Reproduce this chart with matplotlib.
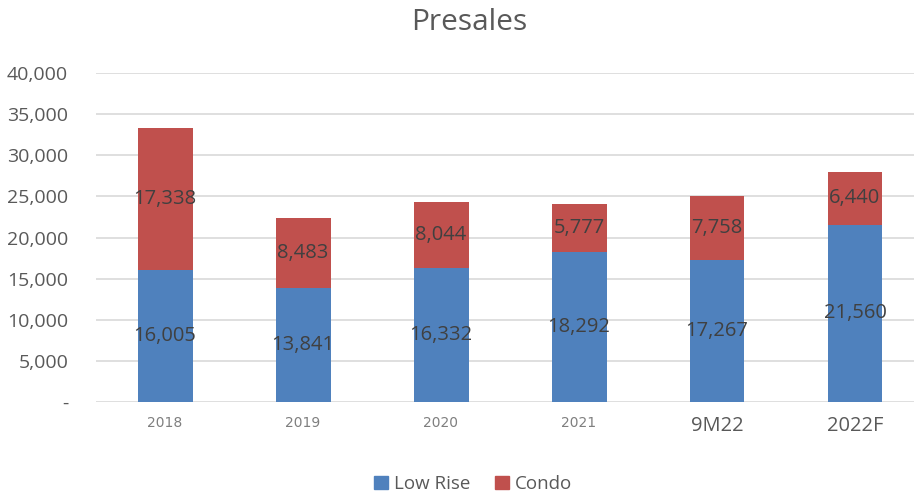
import matplotlib
matplotlib.use("Agg")
import matplotlib.pyplot as plt
from matplotlib.ticker import FuncFormatter
from matplotlib.patches import Patch

categories = ["2018", "2019", "2020", "2021", "9M22", "2022F"]
low_rise = [16005, 13841, 16332, 18292, 17267, 21560]
condo = [17338, 8483, 8044, 5777, 7758, 6440]

blue = "#4F81BD"
red = "#C0504D"
txt = "#595959"

fig = plt.figure(figsize=(9.14, 4.98), dpi=100)
ax = fig.add_axes([96/914, (498-402)/498, (914-96)/914, (402-73)/498])

x = list(range(len(categories)))
w = 55/138
ax.bar(x, low_rise, width=w, color=blue, zorder=3)
ax.bar(x, condo, width=w, bottom=low_rise, color=red, zorder=3)

for i in x:
    ax.text(i, low_rise[i]/2, f"{low_rise[i]:,}", ha="center", va="center",
            fontsize=14.5, color="#404040", family="Open Sans", zorder=4)
    ax.text(i, low_rise[i] + condo[i]/2, f"{condo[i]:,}", ha="center", va="center",
            fontsize=14.5, color="#404040", family="Open Sans", zorder=4)

ax.set_ylim(0, 40000)
ax.set_xlim(-0.5, 5.5 - 10/138)
ax.set_yticks(range(0, 40001, 5000))
ax.yaxis.set_major_formatter(FuncFormatter(lambda v, p: "-" if v == 0 else f"{int(v):,}"))
ax.grid(axis="y", color="#D9D9D9", linewidth=1.2, zorder=0)
for s in ax.spines.values():
    s.set_visible(False)
ax.tick_params(axis="y", length=0, pad=20, labelsize=14, labelcolor=txt)
ax.tick_params(axis="x", length=0, pad=10)
for lbl in ax.get_yticklabels():
    lbl.set_family("Open Sans")
ax.set_xticks(x)
ax.set_xticklabels(categories)
for i, lbl in enumerate(ax.get_xticklabels()):
    if i < 4:
        lbl.set_fontsize(10)
        lbl.set_color("#7F7F7F")
        lbl.set_family("Liberation Sans Narrow")
    else:
        lbl.set_fontsize(14.5)
        lbl.set_color(txt)
        lbl.set_family("Open Sans")

fig.text(469/914, 1 - 22/498, "Presales", ha="center", va="center",
         fontsize=21.5, color=txt, family="Open Sans")

handles = [Patch(color=blue, label="Low Rise"), Patch(color=red, label="Condo")]
leg = fig.legend(handles=handles, loc="center", bbox_to_anchor=(473/914, 1 - 484/498),
                 ncol=2, frameon=False, handlelength=0.75, handleheight=0.75,
                 handletextpad=0.3, columnspacing=1.3, prop={"family": "Open Sans", "size": 13.5})
for t in leg.get_texts():
    t.set_color(txt)

fig.savefig("out.png", dpi=100)
